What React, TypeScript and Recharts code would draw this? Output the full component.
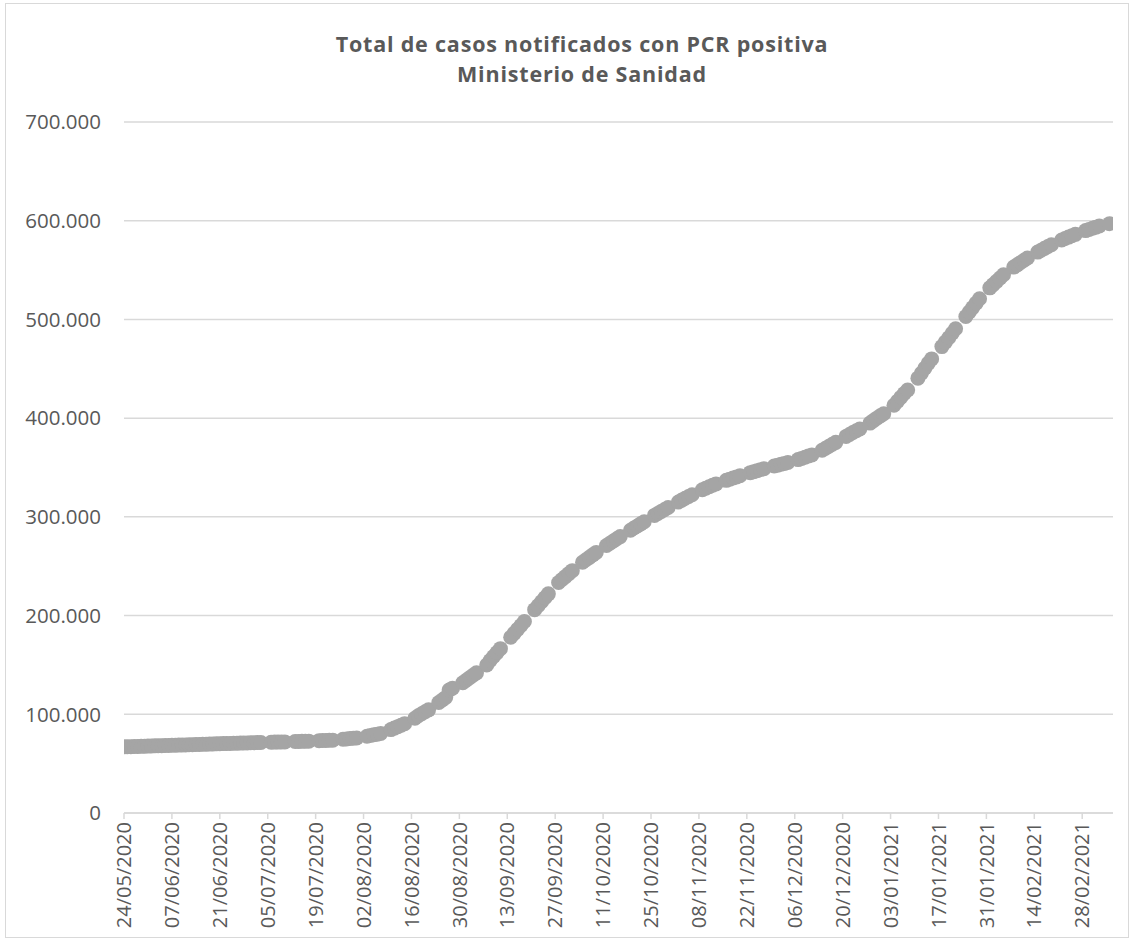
import React from 'react';
import { ScatterChart, Scatter, XAxis, YAxis, CartesianGrid } from 'recharts';

// Daily cumulative PCR+ cases, one row per week (Sun..Sat), first day 24/05/2020.
// null = no report that day (weekends from July 2020 onward)
const dailyCases: (number | null)[] = [
  67000, 67100, 67200, 67300, 67400, 67500, 67650,
  67800, 67900, 68000, 68100, 68250, 68350, 68450,
  68600, 68700, 68800, 68900, 69000, 69150, 69250,
  69400, 69500, 69600, 69700, 69800, 69950, 70050,
  70200, 70300, 70400, 70500, 70600, 70700, 70800,
  70900, 71000, 71100, 71200, 71300, 71400, null,
  null, 71700, 71800, 71850, 71950, 72050, null,
  null, 72400, 72500, 72600, 72700, 72800, null,
  null, 73300, 73400, 73550, 73650, 73800, null,
  null, 74700, 75000, 75400, 75700, 76000, null,
  null, 77800, 78500, 79200, 79900, 80600, null,
  null, 84500, 86000, 87500, 89000, 90500, null,
  null, 96000, 98500, 100500, 102500, 104500, null,
  null, 112000, 114500, 117000, 124500, 126500, null,
  null, 132000, 134500, 137000, 139500, 142000, null,
  null, 150000, 154500, 158500, 162500, 166500, null,
  null, 178000, 182000, 186000, 190000, 194000, null,
  null, 206000, 210000, 214000, 218000, 222000, null,
  null, 233500, 236500, 239500, 242500, 245500, null,
  null, 254000, 256500, 259000, 261500, 264000, null,
  null, 271000, 273200, 275500, 277800, 280000, null,
  null, 286500, 288700, 290800, 292900, 295000, null,
  null, 301500, 303500, 305500, 307500, 309500, null,
  null, 315000, 317000, 318800, 320600, 322400, null,
  null, 327500, 329000, 330500, 332000, 333400, null,
  null, 337000, 338200, 339400, 340500, 341600, null,
  null, 344800, 345800, 346800, 347800, 348800, null,
  null, 351500, 352400, 353300, 354100, 355000, null,
  null, 358000, 359200, 360400, 361600, 362700, null,
  null, 367500, 369500, 371500, 373500, 375500, null,
  null, 381500, 383500, 385500, 387300, 389000, null,
  null, 395000, 397500, 400000, 402300, 404500, null,
  null, 413000, 417000, 421000, 425000, 428500, null,
  null, 440500, 445500, 450500, 455500, 460000, null,
  null, 472500, 477000, 481500, 486000, 490500, null,
  null, 503000, 507500, 512000, 516500, 521000, null,
  null, 532000, 535300, 538600, 542000, 545200, null,
  null, 553000, 555300, 557600, 559900, 562200, null,
  null, 568200, 570100, 572000, 573900, 575700, null,
  null, 580500, 582000, 583400, 584800, 586200, null,
  null, 590000, 591200, 592400, 593500, 594600, null,
  null, 597000,
];

const xTickDays = [0, 14, 28, 42, 56, 70, 84, 98, 112, 126, 140, 154, 168, 182, 196, 210, 224, 238, 252, 266, 280];
const xTickLabels = [
  '24/05/2020', '07/06/2020', '21/06/2020', '05/07/2020', '19/07/2020', '02/08/2020', '16/08/2020',
  '30/08/2020', '13/09/2020', '27/09/2020', '11/10/2020', '25/10/2020', '08/11/2020', '22/11/2020',
  '06/12/2020', '20/12/2020', '03/01/2021', '17/01/2021', '31/01/2021', '14/02/2021', '28/02/2021',
];
const yTicks = [0, 100000, 200000, 300000, 400000, 500000, 600000, 700000];
const yTickLabels = ['0', '100.000', '200.000', '300.000', '400.000', '500.000', '600.000', '700.000'];

const titleLines = ['Total de casos notificados con PCR positiva', 'Ministerio de Sanidad'];

const table = dailyCases
  .map((v, i) => ({ day: i, value: v }))
  .filter((p) => p.value !== null);

const TEXT = '#595959';
const GRID = '#D9D9D9';
const MARK = '#A5A5A5';
const FONT = '"Open Sans", sans-serif';

const XTick = (props: any) => {
  const { x, y, payload } = props;
  const idx = xTickDays.indexOf(payload.value);
  const label = idx >= 0 ? xTickLabels[idx] : '';
  return (
    <text
      x={x}
      y={y}
      transform={`rotate(-90 ${x} ${y})`}
      textAnchor="end"
      dy="0.36em"
      fill={TEXT}
      fontSize={20}
      fontFamily={FONT}
    >
      {label}
    </text>
  );
};

const Dot = (props: any) => {
  const { cx, cy } = props;
  if (cx == null || cy == null) return null;
  return <circle cx={cx} cy={cy} r={7.5} fill={MARK} />;
};

export default function App() {
  return (
    <div style={{ position: 'absolute', left: 0, top: 0, width: 1134, height: 942, background: '#fff' }}>
      <div
        style={{
          position: 'absolute',
          left: 5,
          top: 3,
          width: 1124,
          height: 935,
          border: `1px solid ${GRID}`,
          boxSizing: 'border-box',
        }}
      />
      <div
        style={{
          position: 'absolute',
          left: 232,
          top: 29,
          width: 700,
          textAlign: 'center',
          fontFamily: FONT,
          fontWeight: 700,
          fontSize: 21.5,
          letterSpacing: '0.8px',
          lineHeight: '29.5px',
          color: TEXT,
        }}
      >
        {titleLines.map((t) => (
          <div key={t}>{t}</div>
        ))}
      </div>
      <div style={{ position: 'absolute', left: 0, top: 0 }}>
        <ScatterChart width={1134} height={942} margin={{ top: 122, right: 21, bottom: 0, left: 0 }}>
          <CartesianGrid vertical={false} stroke={GRID} strokeWidth={1.5} />
          <XAxis
            type="number"
            dataKey="day"
            domain={[0, 289]}
            ticks={xTickDays}
            interval={0}
            height={129}
            tick={<XTick />}
            tickSize={6}
            tickMargin={3}
            tickLine={{ stroke: GRID, strokeWidth: 1.5 }}
            axisLine={{ stroke: GRID, strokeWidth: 1.5 }}
            allowDataOverflow
          />
          <YAxis
            type="number"
            dataKey="value"
            domain={[0, 700000]}
            ticks={yTicks}
            interval={0}
            width={124}
            axisLine={false}
            tickLine={false}
            tickSize={6}
            tickMargin={17}
            tickFormatter={(v: number) => {
              const i = yTicks.indexOf(v);
              return i >= 0 ? yTickLabels[i] : '';
            }}
            tick={{ fill: TEXT, fontSize: 20.5, fontFamily: FONT }}
          />
          <Scatter data={table} dataKey="value" shape={<Dot />} isAnimationActive={false} />
        </ScatterChart>
      </div>
    </div>
  );
}
